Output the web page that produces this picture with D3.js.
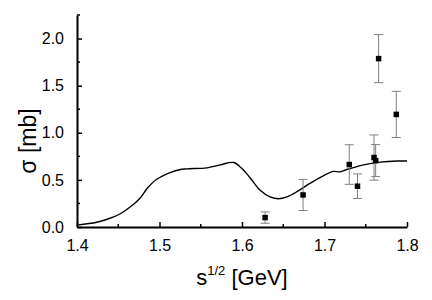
<!DOCTYPE html>
<html>
<head>
<meta charset="utf-8">
<script src="https://cdn.jsdelivr.net/npm/d3@7"></script>
<style>
  body { margin: 0; background: #fff; }
  text { font-family: "Liberation Sans", Arial, sans-serif; fill: #000; }
</style>
</head>
<body>
<svg id="chart" width="432" height="300"></svg>
<script>
// theory curve
const curveX = [1.400, 1.424, 1.440, 1.452, 1.464, 1.4764, 1.4852, 1.4966, 1.5127, 1.524, 1.533,
  1.5576, 1.5737, 1.590, 1.600, 1.610, 1.622, 1.634, 1.6445, 1.6545, 1.6667,
  1.6828, 1.699, 1.711, 1.719, 1.727, 1.7475, 1.7676, 1.788, 1.800];
const curveY = [0.02, 0.05, 0.093, 0.138, 0.209, 0.306, 0.412, 0.507, 0.578, 0.608, 0.617,
  0.628, 0.66, 0.684, 0.62, 0.52, 0.39, 0.32, 0.30, 0.32, 0.375,
  0.465, 0.546, 0.59, 0.585, 0.61, 0.66, 0.688, 0.70, 0.70];

// measured points with errors
const pointX = [1.628, 1.674, 1.730, 1.740, 1.760, 1.762, 1.7656, 1.787];
const pointY = [0.10, 0.34, 0.663, 0.433, 0.737, 0.705, 1.787, 1.195];
const pointErr = [0.06, 0.165, 0.21, 0.13, 0.24, 0.17, 0.255, 0.245];

const xTicks = [1.4, 1.5, 1.6, 1.7, 1.8];
const xMinor = [1.45, 1.55, 1.65, 1.75];
const yTicks = [0.0, 0.5, 1.0, 1.5, 2.0];
const yMinor = [0.25, 0.75, 1.25, 1.75, 2.25];

const margin = { top: 15, right: 25, bottom: 73, left: 77 };
const width = 432 - margin.left - margin.right;
const height = 300 - margin.top - margin.bottom;

const svg = d3.select("#chart");
const g = svg.append("g")
  .attr("transform", "translate(" + margin.left + "," + margin.top + ")");

const x = d3.scaleLinear().domain([1.4, 1.8]).range([0, width]);
const y = d3.scaleLinear().domain([0, 2.25]).range([height, 0]);

// curve
const line = d3.line()
  .x((d, i) => x(curveX[i]))
  .y((d, i) => y(curveY[i]))
  .curve(d3.curveCatmullRom.alpha(0.5));
g.append("path")
  .datum(curveY)
  .attr("fill", "none")
  .attr("stroke", "#000")
  .attr("stroke-width", 1.4)
  .attr("d", line);

// error bars
const pts = pointX.map((v, i) => ({ x: v, y: pointY[i], e: pointErr[i] }));
const eb = g.selectAll("g.err").data(pts).join("g").attr("class", "err")
  .attr("stroke", "#808080").attr("stroke-width", 1);
eb.append("line")
  .attr("x1", d => x(d.x)).attr("x2", d => x(d.x))
  .attr("y1", d => y(d.y + d.e)).attr("y2", d => y(d.y - d.e));
eb.append("line")
  .attr("x1", d => x(d.x) - 4.5).attr("x2", d => x(d.x) + 4.5)
  .attr("y1", d => y(d.y + d.e)).attr("y2", d => y(d.y + d.e));
eb.append("line")
  .attr("x1", d => x(d.x) - 4.5).attr("x2", d => x(d.x) + 4.5)
  .attr("y1", d => y(d.y - d.e)).attr("y2", d => y(d.y - d.e));

g.selectAll("rect.pt").data(pts).join("rect").attr("class", "pt")
  .attr("x", d => x(d.x) - 2.75).attr("y", d => y(d.y) - 2.75)
  .attr("width", 5.5).attr("height", 5.5)
  .attr("fill", "#000");

// X axis, ticks pointing inward
const xAxis = g.append("g").attr("transform", "translate(0," + height + ")");
xAxis.call(d3.axisBottom(x).tickValues(xTicks).tickSizeInner(-5).tickSizeOuter(0)
  .tickPadding(13).tickFormat(d3.format(".1f")));
xAxis.append("g").selectAll("line").data(xMinor).join("line")
  .attr("x1", d => x(d)).attr("x2", d => x(d)).attr("y1", 0).attr("y2", -3)
  .attr("stroke", "#000").attr("stroke-width", 1.5);

// Y axis
const yAxis = g.append("g");
yAxis.call(d3.axisLeft(y).tickValues(yTicks).tickSizeInner(-5).tickSizeOuter(0)
  .tickPadding(13).tickFormat(d3.format(".1f")));
yAxis.append("g").selectAll("line").data(yMinor).join("line")
  .attr("x1", 0).attr("x2", 3).attr("y1", d => y(d)).attr("y2", d => y(d))
  .attr("stroke", "#000").attr("stroke-width", 1.5);

svg.selectAll(".domain").attr("stroke", "#000").attr("stroke-width", 2);
svg.selectAll(".tick line").attr("stroke", "#000").attr("stroke-width", 1.5);
svg.selectAll(".tick text")
  .style("font-size", "16px")
  .style("font-family", "'Liberation Sans', Arial, sans-serif")
  .attr("fill", "#000");

// axis titles
const xt = svg.append("text")
  .attr("x", margin.left + width / 2)
  .attr("y", 285)
  .attr("text-anchor", "middle")
  .style("font-size", "22px");
xt.append("tspan").text("s");
xt.append("tspan").text("1/2").attr("dy", -10).style("font-size", "13px");
xt.append("tspan").text(" [GeV]").attr("dy", 10);

svg.append("text")
  .attr("transform", "translate(36,141) rotate(-90)")
  .attr("text-anchor", "middle")
  .style("font-size", "23px")
  .text("σ [mb]");
</script>
</body>
</html>
